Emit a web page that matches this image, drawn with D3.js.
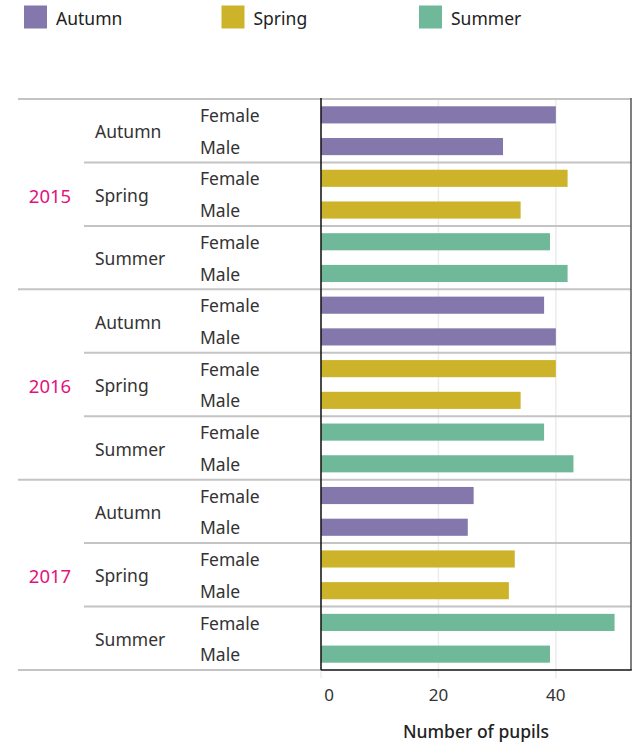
<!DOCTYPE html>
<html>
<head>
<meta charset="utf-8">
<script src="https://cdn.jsdelivr.net/npm/d3@7"></script>
<style>
  body { margin: 0; background: #fff; }
  svg { display: block; font-family: "Noto Sans", sans-serif; }
</style>
</head>
<body>
<svg id="chart" width="641" height="742"></svg>
<script>
const years = ["2015", "2016", "2017"];
const seasons = ["Autumn", "Spring", "Summer"];
const genders = ["Female", "Male"];
// values[year][season] = [Female, Male]
const values2015 = [[40, 31], [42, 34], [39, 42]];
const values2016 = [[38, 40], [40, 34], [38, 43]];
const values2017 = [[26, 25], [33, 32], [50, 39]];
const allValues = [values2015, values2016, values2017];
const seasonColors = ["#8377ab", "#cdb32a", "#6fb89a"];
const xTicks = [0, 20, 40];
const xTitle = "Number of pupils";

const rows = [];
years.forEach((y, yi) => seasons.forEach((s, si) => genders.forEach((g, gi) => {
  rows.push({ year: y, season: s, gender: g, value: allValues[yi][si][gi], key: y + "|" + s + "|" + g });
})));

const svg = d3.select("#chart");
const plotLeft = 321, plotRight = 631, plotTop = 99, plotBottom = 670;

const x = d3.scaleLinear().domain([0, 52.8]).range([plotLeft, plotRight]);
const y = d3.scaleBand().domain(rows.map(d => d.key)).range([plotTop, plotBottom]).paddingInner(0.46).paddingOuter(0.23);
const color = d3.scaleOrdinal().domain(seasons).range(seasonColors);
const rowH = (plotBottom - plotTop) / rows.length;

// legend
const legend = svg.append("g");
seasons.forEach((s, i) => {
  const lx = 24 + i * 197.5;
  legend.append("rect").attr("x", lx).attr("y", 5.5).attr("width", 23).attr("height", 23).attr("fill", color(s));
  legend.append("text").attr("x", lx + 32).attr("y", 24.5).attr("font-size", 17.5).attr("fill", "#222").text(s);
});

// gridlines
svg.append("g").selectAll("line").data(xTicks).join("line")
  .attr("x1", d => x(d)).attr("x2", d => x(d))
  .attr("y1", plotTop).attr("y2", plotBottom + 8)
  .attr("stroke", "#ececec").attr("stroke-width", 1.5);

// bars
svg.append("g").selectAll("rect").data(rows).join("rect")
  .attr("x", x(0)).attr("y", d => y(d.key))
  .attr("width", d => x(d.value) - x(0)).attr("height", y.bandwidth())
  .attr("fill", d => color(d.season));

// separators
const sep = svg.append("g").attr("stroke", "#c4c4c4").attr("stroke-width", 2);
sep.append("line").attr("x1", 18).attr("x2", plotRight).attr("y1", plotTop).attr("y2", plotTop);
years.forEach((yr, yi) => {
  seasons.forEach((s, si) => {
    const top = plotTop + (yi * 6 + si * 2) * rowH;
    if (si > 0) sep.append("line").attr("x1", 84).attr("x2", plotRight).attr("y1", top).attr("y2", top);
    else if (yi > 0) sep.append("line").attr("x1", 18).attr("x2", plotRight).attr("y1", top).attr("y2", top);
  });
});
sep.append("line").attr("x1", 18).attr("x2", plotLeft).attr("y1", plotBottom).attr("y2", plotBottom);

// plot frame
svg.append("line").attr("x1", plotRight).attr("x2", plotRight).attr("y1", plotTop - 1).attr("y2", plotBottom)
  .attr("stroke", "#555").attr("stroke-width", 1.5);
svg.append("line").attr("x1", plotLeft).attr("x2", plotRight + 0.75).attr("y1", plotBottom).attr("y2", plotBottom)
  .attr("stroke", "#111").attr("stroke-width", 1.5);
svg.append("line").attr("x1", plotLeft).attr("x2", plotLeft).attr("y1", plotTop - 1).attr("y2", plotBottom)
  .attr("stroke", "#111").attr("stroke-width", 1.5);

// labels
const labels = svg.append("g").attr("font-size", 17.5).attr("fill", "#333");
rows.forEach(d => {
  labels.append("text").attr("x", 200).attr("y", y(d.key) + y.bandwidth() / 2 + 1).attr("dy", "0.35em").text(d.gender);
});
years.forEach((yr, yi) => {
  seasons.forEach((s, si) => {
    const cy = plotTop + (yi * 6 + si * 2 + 1) * rowH;
    labels.append("text").attr("x", 95).attr("y", cy + 1.5).attr("dy", "0.35em").text(s);
  });
  const cyy = plotTop + (yi * 6 + 3) * rowH;
  labels.append("text").attr("x", 50).attr("y", cyy + 2).attr("dy", "0.35em").attr("text-anchor", "middle")
    .attr("font-size", 18.5).attr("fill", "#e2137c").text(yr);
});

// x axis labels
const axis = svg.append("g").attr("font-size", 17).attr("fill", "#333");
xTicks.forEach(t => {
  axis.append("text").attr("x", t === 0 ? x(t) + 8 : x(t)).attr("y", 695).attr("dy", "0.35em")
    .attr("text-anchor", "middle").text(t);
});
svg.append("text").attr("x", (plotLeft + plotRight) / 2).attr("y", 732).attr("dy", "0.35em")
  .attr("text-anchor", "middle").attr("font-size", 17.5).attr("font-weight", 500).attr("fill", "#222").text(xTitle);
</script>
</body>
</html>
